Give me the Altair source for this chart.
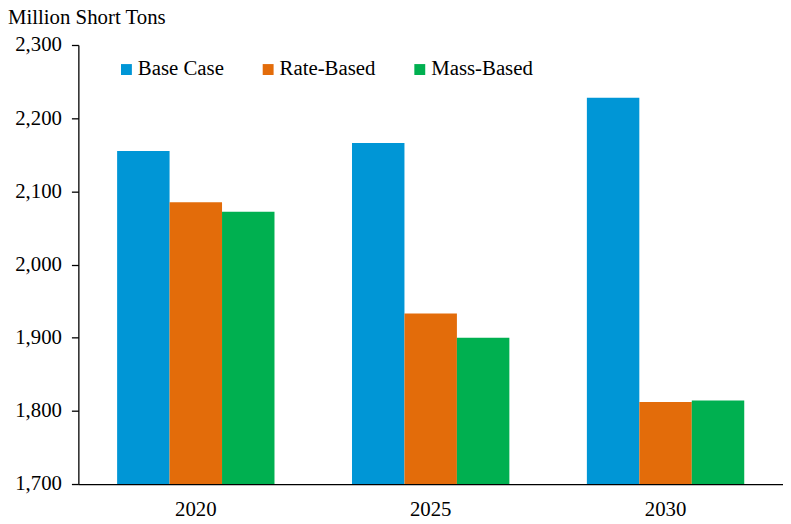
import altair as alt
import pandas as pd

years = ["2020", "2025", "2030"]
series = ["Base Case", "Rate-Based", "Mass-Based"]
base_case = [2155, 2166, 2228]
rate_based = [2085, 1933, 1812]
mass_based = [2072, 1900, 1814]
colors = ["#0096D6", "#E36C0A", "#00B050"]
y_ticks = [1700, 1800, 1900, 2000, 2100, 2200, 2300]

rows = []
for i, y in enumerate(years):
    for s, vals in zip(series, [base_case, rate_based, mass_based]):
        rows.append({"year": y, "series": s, "value": vals[i]})
df = pd.DataFrame(rows)

FONT = "Liberation Serif"

chart = alt.Chart(df).mark_bar().encode(
    x=alt.X("year:N", sort=years, title=None,
            scale=alt.Scale(paddingInner=0.33, paddingOuter=0.165),
            axis=alt.Axis(labelAngle=0, ticks=False, labelPadding=15,
                          labelFontSize=21, labelFont=FONT, labelColor="black",
                          domainColor="black", domainWidth=1.3)),
    xOffset=alt.XOffset("series:N", sort=series),
    y=alt.Y("value:Q", title=None,
            scale=alt.Scale(domain=[1700, 2300], zero=False, nice=False),
            axis=alt.Axis(values=y_ticks, format=",.0f", grid=False,
                          tickSize=7, tickColor="black", tickWidth=1.3,
                          labelPadding=10, labelFontSize=21, labelFont=FONT,
                          labelColor="black", domainColor="black", domainWidth=1.3)),
    y2=alt.datum(1700),
    color=alt.Color("series:N", sort=series, title=None,
                    scale=alt.Scale(domain=series, range=colors),
                    legend=alt.Legend(orient="none", legendX=38, legendY=14,
                                      direction="horizontal", columns=3,
                                      columnPadding=34, symbolType="square",
                                      symbolSize=121, symbolStrokeWidth=0,
                                      labelFontSize=21, labelFont=FONT,
                                      labelColor="black", labelOffset=1,
                                      padding=0)),
).properties(
    width=711, height=443,
    title=alt.TitleParams("Million Short Tons", anchor="start", frame="group",
                          dx=-71, offset=6, fontSize=21, font=FONT,
                          fontWeight="normal", color="black"),
    autosize=alt.AutoSizeParams(type="none"),
    padding={"left": 71, "top": 35, "right": 0, "bottom": 38},
).configure_view(stroke=None)

chart.save("out.html", embed_options={"renderer": "svg", "actions": False})
